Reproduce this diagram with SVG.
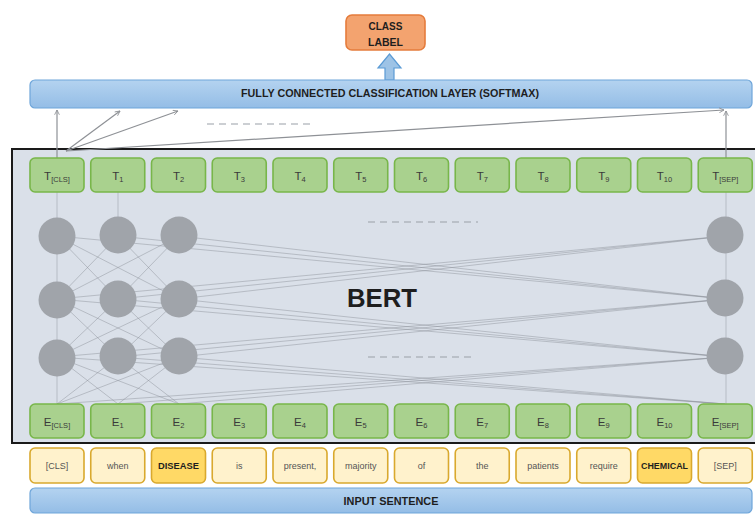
<svg xmlns="http://www.w3.org/2000/svg" width="755" height="514" viewBox="0 0 755 514">
  <defs>
    <linearGradient id="blueBar" x1="0" y1="0" x2="0" y2="1">
      <stop offset="0" stop-color="#B4D3F0"/>
      <stop offset="1" stop-color="#94BDE6"/>
    </linearGradient>
    <marker id="head" viewBox="0 0 10 10" refX="9" refY="5" markerWidth="6" markerHeight="6" orient="auto-start-reverse" markerUnits="userSpaceOnUse">
      <path d="M1,1 L9,5 L1,9" fill="none" stroke="#8E9196" stroke-width="1.4"/>
    </marker>
    <style>
      .lbl { font-family: "Liberation Sans", Arial, sans-serif; fill: #3A3A3A; }
      .bold { font-weight: bold; fill: #1E1E1E; }
      .tok { fill: #A9D18E; stroke: #78B64A; stroke-width: 1.6; }
      .word { fill: #FFF2CC; stroke: #D9A92E; stroke-width: 1.6; }
      .word.hi { fill: #FFD966; }
      .wtxt { fill: #555555; }
      .node { fill: #A0A4AA; }
      .wire { stroke: #8A8F97; stroke-width: 1; fill: none; opacity: 0.45; }
      .arr { stroke: #8E9196; stroke-width: 1.2; fill: none; marker-end: url(#head); }
      .dash { stroke: #9AA0A8; stroke-width: 1.2; stroke-dasharray: 7 5; fill: none; }
    </style>
  </defs>

  <rect width="755" height="514" fill="#FFFFFF"/>

  <!-- output label -->
  <g id="class-label">
    <rect x="346" y="15" width="79" height="35" rx="6" fill="#F3A36F" stroke="#E57C3C" stroke-width="1.6"/>
    <text class="lbl bold" x="385.5" y="29.5" font-size="10" text-anchor="middle" textLength="34" lengthAdjust="spacingAndGlyphs">CLASS</text>
    <text class="lbl bold" x="385.5" y="46" font-size="10" text-anchor="middle" textLength="35" lengthAdjust="spacingAndGlyphs">LABEL</text>
  </g>

  <!-- block arrow from classifier to label -->
  <g id="up-arrow">
    <polygon points="385,80 385,68 378,68 389.5,54 401,68 394,68 394,80" fill="#9DC3E6" stroke="#5B9BD5" stroke-width="1.2"/>
  </g>

  <!-- classification layer -->
  <g id="fc-layer">
    <rect x="30" y="80" width="722" height="28" rx="5" fill="url(#blueBar)" stroke="#6FA6DA" stroke-width="1.2"/>
    <text class="lbl bold" x="390" y="97" font-size="10.5" text-anchor="middle" textLength="298" lengthAdjust="spacingAndGlyphs">FULLY CONNECTED CLASSIFICATION LAYER (SOFTMAX)</text>
  </g>

  <!-- BERT encoder block -->
  <g id="bert">
    <rect x="12" y="149" width="750" height="294" fill="#DAE0E9" stroke="#1A1A1A" stroke-width="2"/>
    <text class="lbl bold" x="382" y="307" font-size="26" text-anchor="middle" textLength="70" lengthAdjust="spacingAndGlyphs">BERT</text>
  </g>

  <!-- connectors -->
  <g id="connectors">
    <!-- [CLS] / [SEP] outputs to the classifier -->
    <line class="arr" x1="57" y1="158" x2="57" y2="110"/>
    <line class="arr" x1="66" y1="151" x2="120" y2="111"/>
    <line class="arr" x1="66" y1="151" x2="178" y2="111"/>
    <line class="arr" x1="66" y1="151" x2="724" y2="110"/>
    <line class="arr" x1="726" y1="158" x2="726" y2="111"/>
    <line class="dash" x1="207" y1="124" x2="313" y2="124"/>

    <!-- vertical paths through the encoder -->
    <line class="wire" x1="57" y1="192" x2="57" y2="404"/>
    <line class="wire" x1="118" y1="192" x2="118" y2="218"/>
    <line class="wire" x1="726" y1="192" x2="726" y2="404" opacity="0.3"/>

    <!-- row 1 to row 2 -->
    <path class="wire" d="M57,236 L118,299 M57,236 L179,299 M118,236 L57,299 M118,236 L179,299 M179,236 L57,299 M179,236 L118,299
                          M57,236 L725,299 M118,236 L725,299 M179,236 L725,299
                          M725,236 L57,299 M725,236 L118,299 M725,236 L179,299"/>
    <!-- row 2 to row 3 -->
    <path class="wire" d="M57,299 L118,357 M57,299 L179,357 M118,299 L57,357 M118,299 L179,357 M179,299 L57,357 M179,299 L118,357
                          M57,299 L725,357 M118,299 L725,357 M179,299 L725,357
                          M725,299 L57,357 M725,299 L118,357 M725,299 L179,357"/>
    <!-- row 3 to embeddings -->
    <path class="wire" d="M57,357 L118,404 M57,357 L179,404 M118,357 L57,404 M118,357 L179,404 M179,357 L57,404 M179,357 L118,404
                          M57,357 L725,404 M118,357 L725,404 M179,357 L725,404
                          M725,357 L57,404 M725,357 L118,404 M725,357 L179,404"/>

    <line class="dash" x1="368" y1="222" x2="478" y2="222"/>
    <line class="dash" x1="368" y1="357" x2="472" y2="357"/>
  </g>

  <!-- hidden units -->
  <g id="hidden-units">
    <circle class="node" cx="57" cy="236" r="18.5"/>
    <circle class="node" cx="118" cy="235" r="18.5"/>
    <circle class="node" cx="179" cy="235" r="18.5"/>
    <circle class="node" cx="725" cy="235" r="18.5"/>
    <circle class="node" cx="57" cy="300" r="18.5"/>
    <circle class="node" cx="118" cy="299" r="18.5"/>
    <circle class="node" cx="179" cy="299" r="18.5"/>
    <circle class="node" cx="725" cy="298" r="18.5"/>
    <circle class="node" cx="57" cy="358" r="18.5"/>
    <circle class="node" cx="118" cy="356" r="18.5"/>
    <circle class="node" cx="179" cy="356" r="18.5"/>
    <circle class="node" cx="725" cy="356" r="18.5"/>
  </g>

  <!-- output token vectors -->
  <g id="t-cls"><rect class="tok" x="30" y="158" width="54" height="34" rx="5"/><text class="lbl" x="57" y="180" font-size="11.5" text-anchor="middle">T<tspan font-size="7.5" dy="2">[CLS]</tspan></text></g>
  <g id="t-1"><rect class="tok" x="90.75" y="158" width="54" height="34" rx="5"/><text class="lbl" x="117.75" y="180" font-size="11.5" text-anchor="middle">T<tspan font-size="7.5" dy="2">1</tspan></text></g>
  <g id="t-2"><rect class="tok" x="151.5" y="158" width="54" height="34" rx="5"/><text class="lbl" x="178.5" y="180" font-size="11.5" text-anchor="middle">T<tspan font-size="7.5" dy="2">2</tspan></text></g>
  <g id="t-3"><rect class="tok" x="212.25" y="158" width="54" height="34" rx="5"/><text class="lbl" x="239.25" y="180" font-size="11.5" text-anchor="middle">T<tspan font-size="7.5" dy="2">3</tspan></text></g>
  <g id="t-4"><rect class="tok" x="273" y="158" width="54" height="34" rx="5"/><text class="lbl" x="300" y="180" font-size="11.5" text-anchor="middle">T<tspan font-size="7.5" dy="2">4</tspan></text></g>
  <g id="t-5"><rect class="tok" x="333.75" y="158" width="54" height="34" rx="5"/><text class="lbl" x="360.75" y="180" font-size="11.5" text-anchor="middle">T<tspan font-size="7.5" dy="2">5</tspan></text></g>
  <g id="t-6"><rect class="tok" x="394.5" y="158" width="54" height="34" rx="5"/><text class="lbl" x="421.5" y="180" font-size="11.5" text-anchor="middle">T<tspan font-size="7.5" dy="2">6</tspan></text></g>
  <g id="t-7"><rect class="tok" x="455.25" y="158" width="54" height="34" rx="5"/><text class="lbl" x="482.25" y="180" font-size="11.5" text-anchor="middle">T<tspan font-size="7.5" dy="2">7</tspan></text></g>
  <g id="t-8"><rect class="tok" x="516" y="158" width="54" height="34" rx="5"/><text class="lbl" x="543" y="180" font-size="11.5" text-anchor="middle">T<tspan font-size="7.5" dy="2">8</tspan></text></g>
  <g id="t-9"><rect class="tok" x="576.75" y="158" width="54" height="34" rx="5"/><text class="lbl" x="603.75" y="180" font-size="11.5" text-anchor="middle">T<tspan font-size="7.5" dy="2">9</tspan></text></g>
  <g id="t-10"><rect class="tok" x="637.5" y="158" width="54" height="34" rx="5"/><text class="lbl" x="664.5" y="180" font-size="11.5" text-anchor="middle">T<tspan font-size="7.5" dy="2">10</tspan></text></g>
  <g id="t-sep"><rect class="tok" x="698.25" y="158" width="54" height="34" rx="5"/><text class="lbl" x="725.25" y="180" font-size="11.5" text-anchor="middle">T<tspan font-size="7.5" dy="2">[SEP]</tspan></text></g>

  <!-- input embeddings -->
  <g id="e-cls"><rect class="tok" x="30" y="404" width="54" height="34" rx="5"/><text class="lbl" x="57" y="426" font-size="11.5" text-anchor="middle">E<tspan font-size="7.5" dy="2">[CLS]</tspan></text></g>
  <g id="e-1"><rect class="tok" x="90.75" y="404" width="54" height="34" rx="5"/><text class="lbl" x="117.75" y="426" font-size="11.5" text-anchor="middle">E<tspan font-size="7.5" dy="2">1</tspan></text></g>
  <g id="e-2"><rect class="tok" x="151.5" y="404" width="54" height="34" rx="5"/><text class="lbl" x="178.5" y="426" font-size="11.5" text-anchor="middle">E<tspan font-size="7.5" dy="2">2</tspan></text></g>
  <g id="e-3"><rect class="tok" x="212.25" y="404" width="54" height="34" rx="5"/><text class="lbl" x="239.25" y="426" font-size="11.5" text-anchor="middle">E<tspan font-size="7.5" dy="2">3</tspan></text></g>
  <g id="e-4"><rect class="tok" x="273" y="404" width="54" height="34" rx="5"/><text class="lbl" x="300" y="426" font-size="11.5" text-anchor="middle">E<tspan font-size="7.5" dy="2">4</tspan></text></g>
  <g id="e-5"><rect class="tok" x="333.75" y="404" width="54" height="34" rx="5"/><text class="lbl" x="360.75" y="426" font-size="11.5" text-anchor="middle">E<tspan font-size="7.5" dy="2">5</tspan></text></g>
  <g id="e-6"><rect class="tok" x="394.5" y="404" width="54" height="34" rx="5"/><text class="lbl" x="421.5" y="426" font-size="11.5" text-anchor="middle">E<tspan font-size="7.5" dy="2">6</tspan></text></g>
  <g id="e-7"><rect class="tok" x="455.25" y="404" width="54" height="34" rx="5"/><text class="lbl" x="482.25" y="426" font-size="11.5" text-anchor="middle">E<tspan font-size="7.5" dy="2">7</tspan></text></g>
  <g id="e-8"><rect class="tok" x="516" y="404" width="54" height="34" rx="5"/><text class="lbl" x="543" y="426" font-size="11.5" text-anchor="middle">E<tspan font-size="7.5" dy="2">8</tspan></text></g>
  <g id="e-9"><rect class="tok" x="576.75" y="404" width="54" height="34" rx="5"/><text class="lbl" x="603.75" y="426" font-size="11.5" text-anchor="middle">E<tspan font-size="7.5" dy="2">9</tspan></text></g>
  <g id="e-10"><rect class="tok" x="637.5" y="404" width="54" height="34" rx="5"/><text class="lbl" x="664.5" y="426" font-size="11.5" text-anchor="middle">E<tspan font-size="7.5" dy="2">10</tspan></text></g>
  <g id="e-sep"><rect class="tok" x="698.25" y="404" width="54" height="34" rx="5"/><text class="lbl" x="725.25" y="426" font-size="11.5" text-anchor="middle">E<tspan font-size="7.5" dy="2">[SEP]</tspan></text></g>

  <!-- input word pieces -->
  <g id="w-cls"><rect class="word" x="30" y="448" width="54" height="35" rx="5"/><text class="lbl wtxt" x="57" y="469" font-size="9" text-anchor="middle">[CLS]</text></g>
  <g id="w-when"><rect class="word" x="90.75" y="448" width="54" height="35" rx="5"/><text class="lbl wtxt" x="117.75" y="469" font-size="9" text-anchor="middle">when</text></g>
  <g id="w-disease"><rect class="word hi" x="151.5" y="448" width="54" height="35" rx="5"/><text class="lbl bold" x="178.5" y="469" font-size="9" text-anchor="middle" textLength="41" lengthAdjust="spacingAndGlyphs">DISEASE</text></g>
  <g id="w-is"><rect class="word" x="212.25" y="448" width="54" height="35" rx="5"/><text class="lbl wtxt" x="239.25" y="469" font-size="9" text-anchor="middle">is</text></g>
  <g id="w-present"><rect class="word" x="273" y="448" width="54" height="35" rx="5"/><text class="lbl wtxt" x="300" y="469" font-size="9" text-anchor="middle">present,</text></g>
  <g id="w-majority"><rect class="word" x="333.75" y="448" width="54" height="35" rx="5"/><text class="lbl wtxt" x="360.75" y="469" font-size="9" text-anchor="middle">majority</text></g>
  <g id="w-of"><rect class="word" x="394.5" y="448" width="54" height="35" rx="5"/><text class="lbl wtxt" x="421.5" y="469" font-size="9" text-anchor="middle">of</text></g>
  <g id="w-the"><rect class="word" x="455.25" y="448" width="54" height="35" rx="5"/><text class="lbl wtxt" x="482.25" y="469" font-size="9" text-anchor="middle">the</text></g>
  <g id="w-patients"><rect class="word" x="516" y="448" width="54" height="35" rx="5"/><text class="lbl wtxt" x="543" y="469" font-size="9" text-anchor="middle">patients</text></g>
  <g id="w-require"><rect class="word" x="576.75" y="448" width="54" height="35" rx="5"/><text class="lbl wtxt" x="603.75" y="469" font-size="9" text-anchor="middle">require</text></g>
  <g id="w-chemical"><rect class="word hi" x="637.5" y="448" width="54" height="35" rx="5"/><text class="lbl bold" x="664.5" y="469" font-size="9" text-anchor="middle" textLength="47" lengthAdjust="spacingAndGlyphs">CHEMICAL</text></g>
  <g id="w-sep"><rect class="word" x="698.25" y="448" width="54" height="35" rx="5"/><text class="lbl wtxt" x="725.25" y="469" font-size="9" text-anchor="middle">[SEP]</text></g>

  <!-- input sentence bar -->
  <g id="input-sentence">
    <rect x="30" y="488" width="722" height="25" rx="5" fill="url(#blueBar)" stroke="#6FA6DA" stroke-width="1.2"/>
    <text class="lbl bold" x="391" y="505" font-size="10.5" text-anchor="middle" textLength="95" lengthAdjust="spacingAndGlyphs">INPUT SENTENCE</text>
  </g>
</svg>
